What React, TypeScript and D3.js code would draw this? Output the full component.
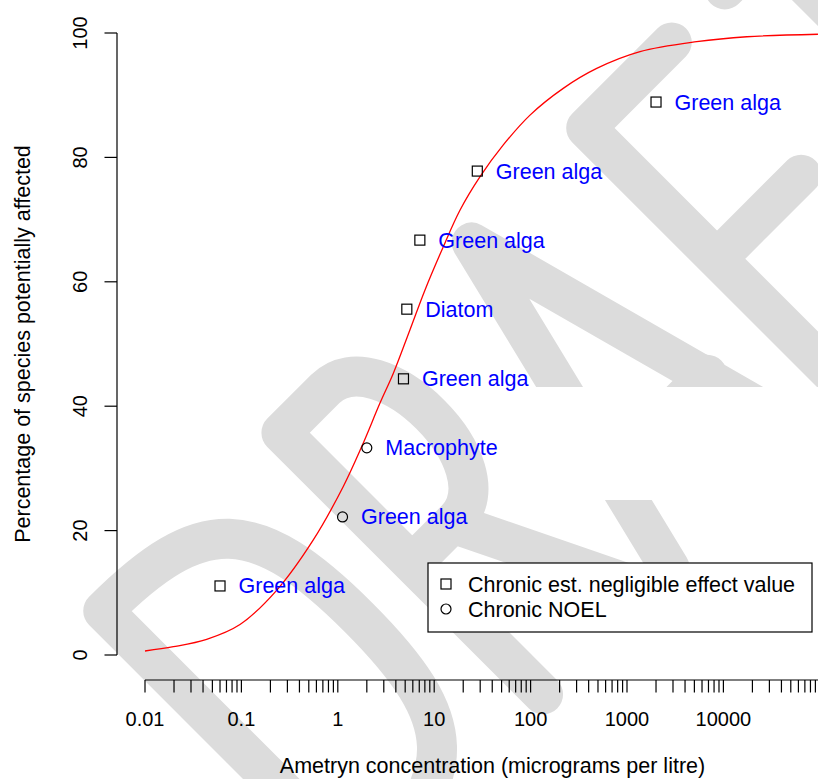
import React from 'react';
import * as d3 from 'd3';

// Axis ticks
const yTicks = [0, 20, 40, 60, 80, 100];
const xMajorTicks = [0.01, 0.1, 1, 10, 100, 1000, 10000];
const xTickLabels = ['0.01', '0.1', '1', '10', '100', '1000', '10000'];
const minorMultipliers = [2, 3, 4, 5, 6, 7, 8, 9];
const minorDecades = [0.01, 0.1, 1, 10, 100, 1000, 10000];

// Species sensitivity data (concentration in micrograms per litre, cumulative %)
const speciesConc = [0.06, 1.12, 2.0, 4.8, 5.2, 7.1, 28, 2000];
const speciesPct = [11.1, 22.2, 33.3, 44.4, 55.6, 66.7, 77.8, 88.9];
const speciesGroup = ['Green alga', 'Green alga', 'Macrophyte', 'Green alga', 'Diatom', 'Green alga', 'Green alga', 'Green alga'];
const endpointKind = ['est', 'noel', 'noel', 'est', 'est', 'est', 'est', 'est'];

// Fitted species sensitivity distribution
const curveConc = [0.01, 0.0197, 0.0436, 0.0967, 0.232, 0.557, 1.14, 1.77, 2.74, 3.77, 5.61, 8.03, 12.4, 18.5, 29.9, 52.1, 98.6, 218, 485, 1365, 5280, 17460, 95700];
const curvePct = [0.64, 1.33, 2.52, 4.9, 10.4, 18.5, 27.1, 33.5, 40.5, 45.3, 52.3, 58.7, 65.6, 71.5, 76.9, 82.0, 86.8, 91.1, 94.3, 97.0, 98.6, 99.4, 99.8];

const legendLabels = ['Chronic est. negligible effect value', 'Chronic NOEL'];
const legendKinds = ['est', 'noel'];

const FONT = '"Liberation Sans", Arial, Helvetica, sans-serif';

function Marker({ kind, cx, cy }: { kind: string; cx: number; cy: number }) {
  if (kind === 'noel') {
    return <circle cx={cx} cy={cy} r={5} fill="none" stroke="#000" strokeWidth={1.2} />;
  }
  return <rect x={cx - 5} y={cy - 5} width={10} height={10} fill="none" stroke="#000" strokeWidth={1.2} />;
}

export default function App() {
  const width = 818;
  const height = 779;
  const x = d3.scaleLog().domain([0.01, 1e5]).range([145, 819.8]);
  const y = d3.scaleLinear().domain([0, 100]).range([655, 33]);

  const line = d3
    .line<number>()
    .x((_, i) => x(curveConc[i]))
    .y((d) => y(d))
    .curve(d3.curveCatmullRom.alpha(0.5));

  const minorTicks: number[] = [];
  minorDecades.forEach((dec) => minorMultipliers.forEach((m) => minorTicks.push(dec * m)));
  const allXTicks = [...xMajorTicks, ...minorTicks];

  const axisY = 680;
  const axisX = 117;

  return (
    <svg
      width={width}
      height={height}
      style={{ position: 'absolute', left: 0, top: 0, background: '#fff' }}
      fontFamily={FONT}
    >
      <rect x={0} y={0} width={width} height={height} fill="#fff" />

      {/* DRAFT watermark, drawn as thick rounded strokes on a 45 degree baseline */}
      <g
        transform="rotate(-45)"
        stroke="#dcdcdc"
        strokeWidth={40}
        fill="none"
        strokeLinecap="round"
        strokeLinejoin="round"
      >
        <path d="M-359,875 L-359,505 C-220,505 -183,545 -183,690 C-183,835 -220,875 -359,875 Z" />
        <path d="M-107,875 L-107,505 L-45,505 C30,505 30,690 -45,690 L-107,690 M-50,690 L40,875" />
        <path d="M72,875 L162,505 L262,875 M99,765 L235,765" />
        <path d="M324,875 L324,505 L445,505 M324,690 L443,690" />
        <path d="M520,505 L640,505 M580,505 L580,875" />
      </g>
      <rect x={500} y={387} width={318} height={113} fill="#fff" />

      {/* y axis */}
      <line x1={axisX} x2={axisX} y1={y(0)} y2={y(100)} stroke="#000" strokeWidth={1.2} />
      {yTicks.map((t) => (
        <g key={t}>
          <line x1={axisX - 12.5} x2={axisX} y1={y(t)} y2={y(t)} stroke="#000" strokeWidth={1.2} />
          <text
            transform={`translate(87,${y(t)}) rotate(-90)`}
            textAnchor="middle"
            fontSize={20}
            fill="#000"
          >
            {t}
          </text>
        </g>
      ))}
      <text
        transform="translate(30,344) rotate(-90)"
        textAnchor="middle"
        fontSize={21.5}
        fill="#000"
      >
        Percentage of species potentially affected
      </text>

      {/* x axis (log scale) */}
      <line x1={x(0.01)} x2={x(1e5)} y1={axisY} y2={axisY} stroke="#000" strokeWidth={1.2} />
      {allXTicks.map((t, i) => (
        <line key={i} x1={x(t)} x2={x(t)} y1={axisY} y2={axisY + 12.5} stroke="#000" strokeWidth={1.2} />
      ))}
      {xMajorTicks.map((t, i) => (
        <text key={t} x={x(t)} y={726} textAnchor="middle" fontSize={20} fill="#000">
          {xTickLabels[i]}
        </text>
      ))}
      <text x={492.5} y={773} textAnchor="middle" fontSize={21.5} fill="#000">
        Ametryn concentration (micrograms per litre)
      </text>

      {/* fitted curve */}
      <path d={line(curvePct) || ''} fill="none" stroke="#ff0000" strokeWidth={1.3} />

      {/* species points and labels */}
      {speciesConc.map((c, i) => (
        <g key={i}>
          <Marker kind={endpointKind[i]} cx={x(c)} cy={y(speciesPct[i])} />
          <text x={x(c) + 18.5} y={y(speciesPct[i]) + 7.5} fontSize={21.5} fill="#0000ff">
            {speciesGroup[i]}
          </text>
        </g>
      ))}

      {/* legend */}
      <rect x={428} y={563} width={384} height={69} fill="#fff" stroke="#000" strokeWidth={1.2} />
      {legendLabels.map((lab, i) => (
        <g key={lab}>
          <Marker kind={legendKinds[i]} cx={446} cy={584 + i * 25} />
          <text x={468} y={591.5 + i * 25} fontSize={21.5} fill="#000">
            {lab}
          </text>
        </g>
      ))}
    </svg>
  );
}
